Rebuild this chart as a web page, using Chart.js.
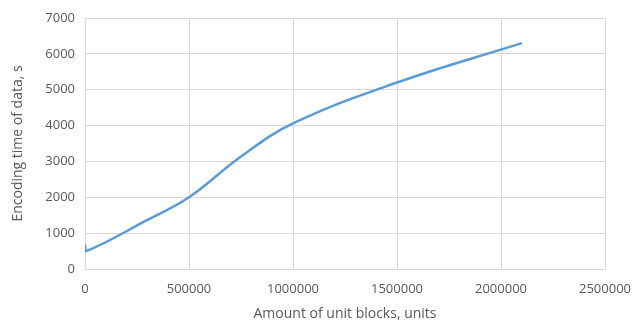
<!DOCTYPE html>
<html lang="en">
<head>
  <meta charset="UTF-8">
  <title>Encoding time of data</title>
  <script src="https://cdn.jsdelivr.net/npm/chart.js@4.4.0/dist/chart.umd.min.js"></script>
  <style>
    html, body {
      margin: 0;
      padding: 0;
      background: #fff;
    }
    #wrap {
      width: 637px;
      height: 326px;
    }
  </style>
</head>
<body>
  <div id="wrap"><canvas id="encChart" width="637" height="326"></canvas></div>
  <script>
    // values
    const blocks = [0, 6000, 300000, 500000, 750000, 1000000, 1500000, 2100000];
    const encodingTime = [680, 500, 1370, 2000, 3140, 4060, 5200, 6300];
    const xTicks = [0, 500000, 1000000, 1500000, 2000000, 2500000];
    const yTicks = [0, 1000, 2000, 3000, 4000, 5000, 6000, 7000];

    const points = blocks.map((b, i) => ({ x: b, y: encodingTime[i] }));
    const grey = '#595959';
    const gridGrey = '#d9d9d9';

    new Chart(document.getElementById('encChart'), {
      type: 'scatter',
      data: {
        datasets: [{
          data: points,
          showLine: true,
          borderColor: '#5b9bd5',
          borderWidth: 2.5,
          pointRadius: 0,
          tension: 0.4,
          fill: false
        }]
      },
      options: {
        responsive: false,
        animation: false,
        layout: { padding: { top: 18, right: 32, left: 6, bottom: 0 } },
        plugins: {
          legend: { display: false },
          tooltip: { enabled: false }
        },
        scales: {
          x: {
            type: 'linear',
            min: 0,
            max: 2500000,
            afterBuildTicks: s => { s.ticks = xTicks.map(v => ({ value: v })); },
            // keep the last label from shrinking the plot area
            afterFit: s => { s.height = 57; s.paddingRight = 0; s.paddingLeft = 0; },
            ticks: {
              color: grey,
              font: { family: 'Open Sans', size: 13 },
              padding: 12,
              maxRotation: 0,
              callback: v => String(v)
            },
            grid: { color: gridGrey, lineWidth: 1, drawTicks: false },
            border: { color: gridGrey },
            title: {
              display: true,
              text: 'Amount of unit blocks, units',
              color: grey,
              font: { family: 'Open Sans', size: 14 },
              padding: { top: 6 }
            }
          },
          y: {
            min: 0,
            max: 7000,
            afterBuildTicks: s => { s.ticks = yTicks.map(v => ({ value: v })); },
            afterFit: s => { s.width = 79; },
            ticks: {
              color: grey,
              font: { family: 'Open Sans', size: 13 },
              padding: 10,
              callback: v => String(v)
            },
            grid: { color: gridGrey, lineWidth: 1, drawTicks: false },
            border: { color: gridGrey },
            title: {
              display: true,
              text: 'Encoding time of data, s',
              color: grey,
              font: { family: 'Open Sans', size: 14 },
              padding: { bottom: 0 }
            }
          }
        }
      }
    });
  </script>
</body>
</html>
